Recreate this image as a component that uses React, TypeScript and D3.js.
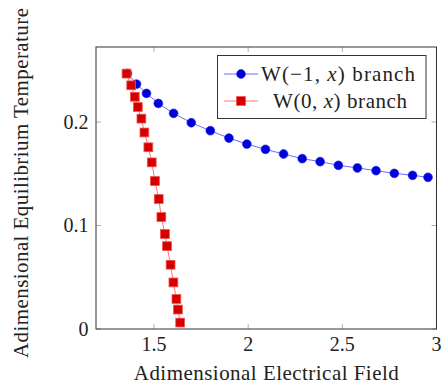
import React from 'react';
import * as d3 from 'd3';

// W(-1, x) branch
const blueX = [1.359, 1.407, 1.46, 1.523, 1.604, 1.698, 1.799, 1.898, 1.993, 2.092, 2.188, 2.287, 2.382, 2.479, 2.58, 2.679, 2.776, 2.873, 2.955];
const blueY = [0.247, 0.2367, 0.2277, 0.218, 0.2084, 0.1993, 0.1916, 0.1845, 0.1787, 0.1736, 0.1691, 0.1646, 0.1617, 0.1582, 0.1556, 0.153, 0.1504, 0.1485, 0.1466];

// W(0, x) branch
const redX = [1.354, 1.379, 1.398, 1.414, 1.433, 1.449, 1.47, 1.488, 1.505, 1.525, 1.539, 1.558, 1.569, 1.588, 1.603, 1.619, 1.627, 1.639];
const redY = [0.2468, 0.2355, 0.2244, 0.2145, 0.2033, 0.1899, 0.1756, 0.161, 0.143, 0.1256, 0.1082, 0.0918, 0.0801, 0.0621, 0.045, 0.029, 0.0188, 0.0062];

const xTicks = [1.5, 2, 2.5, 3];
const xTickLabels = ['1.5', '2', '2.5', '3'];
const yTicks = [0, 0.1, 0.2];
const yTickLabels = ['0', '0.1', '0.2'];

const W = 443;
const H = 387;
const m = { left: 96, right: 6.5, top: 47, bottom: 58 };

const BLUE = '#0000d8';
const BLUE_LINE = '#6b6bff';
const RED = '#d40000';
const RED_LINE = '#ff7474';

const txt = { fontFamily: "'Liberation Serif', 'Times New Roman', serif" };

export default function App() {
  const x = d3.scaleLinear().domain([1.192, 3]).range([m.left, W - m.right]);
  const y = d3.scaleLinear().domain([0, 0.2725]).range([H - m.bottom, m.top]);

  const blue = blueX.map((v, i) => [v, blueY[i]] as [number, number]);
  const red = redX.map((v, i) => [v, redY[i]] as [number, number]);
  const line = d3.line<[number, number]>().x(d => x(d[0])).y(d => y(d[1]));

  const x0 = m.left;
  const x1 = W - m.right;
  const y0 = H - m.bottom;
  const y1 = m.top;
  const tk = 5;

  // legend
  const lg = { x: 217.5, y: 55.5, w: 208.5, h: 63 };
  const row1 = 74;
  const row2 = 101;

  return (
    <svg width={W} height={H} style={{ position: 'absolute', left: 0, top: 0, background: '#fff' }}>
      <defs>
        <clipPath id="plot">
          <rect x={x0} y={y1} width={x1 - x0} height={y0 - y1} />
        </clipPath>
      </defs>

      {/* ticks, inward and mirrored */}
      {xTicks.map(t => (
        <g key={'xt' + t} stroke="#9a9a9a" strokeWidth={0.8}>
          <line x1={x(t)} x2={x(t)} y1={y0} y2={y0 - tk} />
          <line x1={x(t)} x2={x(t)} y1={y1} y2={y1 + tk} />
        </g>
      ))}
      {yTicks.map(t => (
        <g key={'yt' + t} stroke="#9a9a9a" strokeWidth={0.8}>
          <line x1={x0} x2={x0 + tk} y1={y(t)} y2={y(t)} />
          <line x1={x1} x2={x1 - tk} y1={y(t)} y2={y(t)} />
        </g>
      ))}

      <rect x={x0} y={y1} width={x1 - x0} height={y0 - y1} fill="none" stroke="#333" strokeWidth={1} />

      <g clipPath="url(#plot)">
        <path d={line(blue) || ''} fill="none" stroke={BLUE_LINE} strokeWidth={1} />
        <path d={line(red) || ''} fill="none" stroke={RED_LINE} strokeWidth={1} />
      </g>
      {blue.map((d, i) => (
        <circle key={'b' + i} cx={x(d[0])} cy={y(d[1])} r={4.4} fill={BLUE} stroke="#1a1aee" strokeWidth={0.6} />
      ))}
      {red.map((d, i) => (
        <rect key={'r' + i} x={x(d[0]) - 4.4} y={y(d[1]) - 4.4} width={8.8} height={8.8} fill={RED} stroke="#f05050" strokeWidth={0.8} />
      ))}

      {/* tick labels */}
      {xTicks.map((t, i) => (
        <text key={'xl' + t} style={txt} x={x(t)} y={y0 + 21.5} textAnchor="middle" fontSize={20} fill="#222">{xTickLabels[i]}</text>
      ))}
      {yTicks.map((t, i) => (
        <text key={'yl' + t} style={txt} x={x0 - 7.5} y={y(t) + 6.5} textAnchor="end" fontSize={20} fill="#222">{yTickLabels[i]}</text>
      ))}

      {/* axis labels */}
      <text style={txt} x={(x0 + x1) / 2} y={380} textAnchor="middle" fontSize={21} fill="#222" textLength={265} lengthAdjust="spacing">Adimensional Electrical Field</text>
      <text style={txt} transform={`translate(28,${183}) rotate(-90)`} textAnchor="middle" fontSize={21} fill="#222" textLength={350} lengthAdjust="spacing">Adimensional Equilibrium Temperature</text>

      {/* legend */}
      <rect x={lg.x} y={lg.y} width={lg.w} height={lg.h} fill="#fff" stroke="#333" strokeWidth={1} />
      <line x1={224} x2={258} y1={row1} y2={row1} stroke={BLUE_LINE} strokeWidth={1} />
      <circle cx={241} cy={row1} r={4.4} fill={BLUE} stroke="#1a1aee" strokeWidth={0.6} />
      <text style={txt} x={261} y={row1 + 6.5} fontSize={21} fill="#222" textLength={154} lengthAdjust="spacing">
        W(−1, <tspan fontStyle="italic">x</tspan>) branch
      </text>
      <line x1={224} x2={258} y1={row2} y2={row2} stroke={RED_LINE} strokeWidth={1} />
      <rect x={241 - 4.4} y={row2 - 4.4} width={8.8} height={8.8} fill={RED} stroke="#f05050" strokeWidth={0.8} />
      <text style={txt} x={273} y={row2 + 6.5} fontSize={21} fill="#222" textLength={134} lengthAdjust="spacing">
        W(0, <tspan fontStyle="italic">x</tspan>) branch
      </text>
    </svg>
  );
}
